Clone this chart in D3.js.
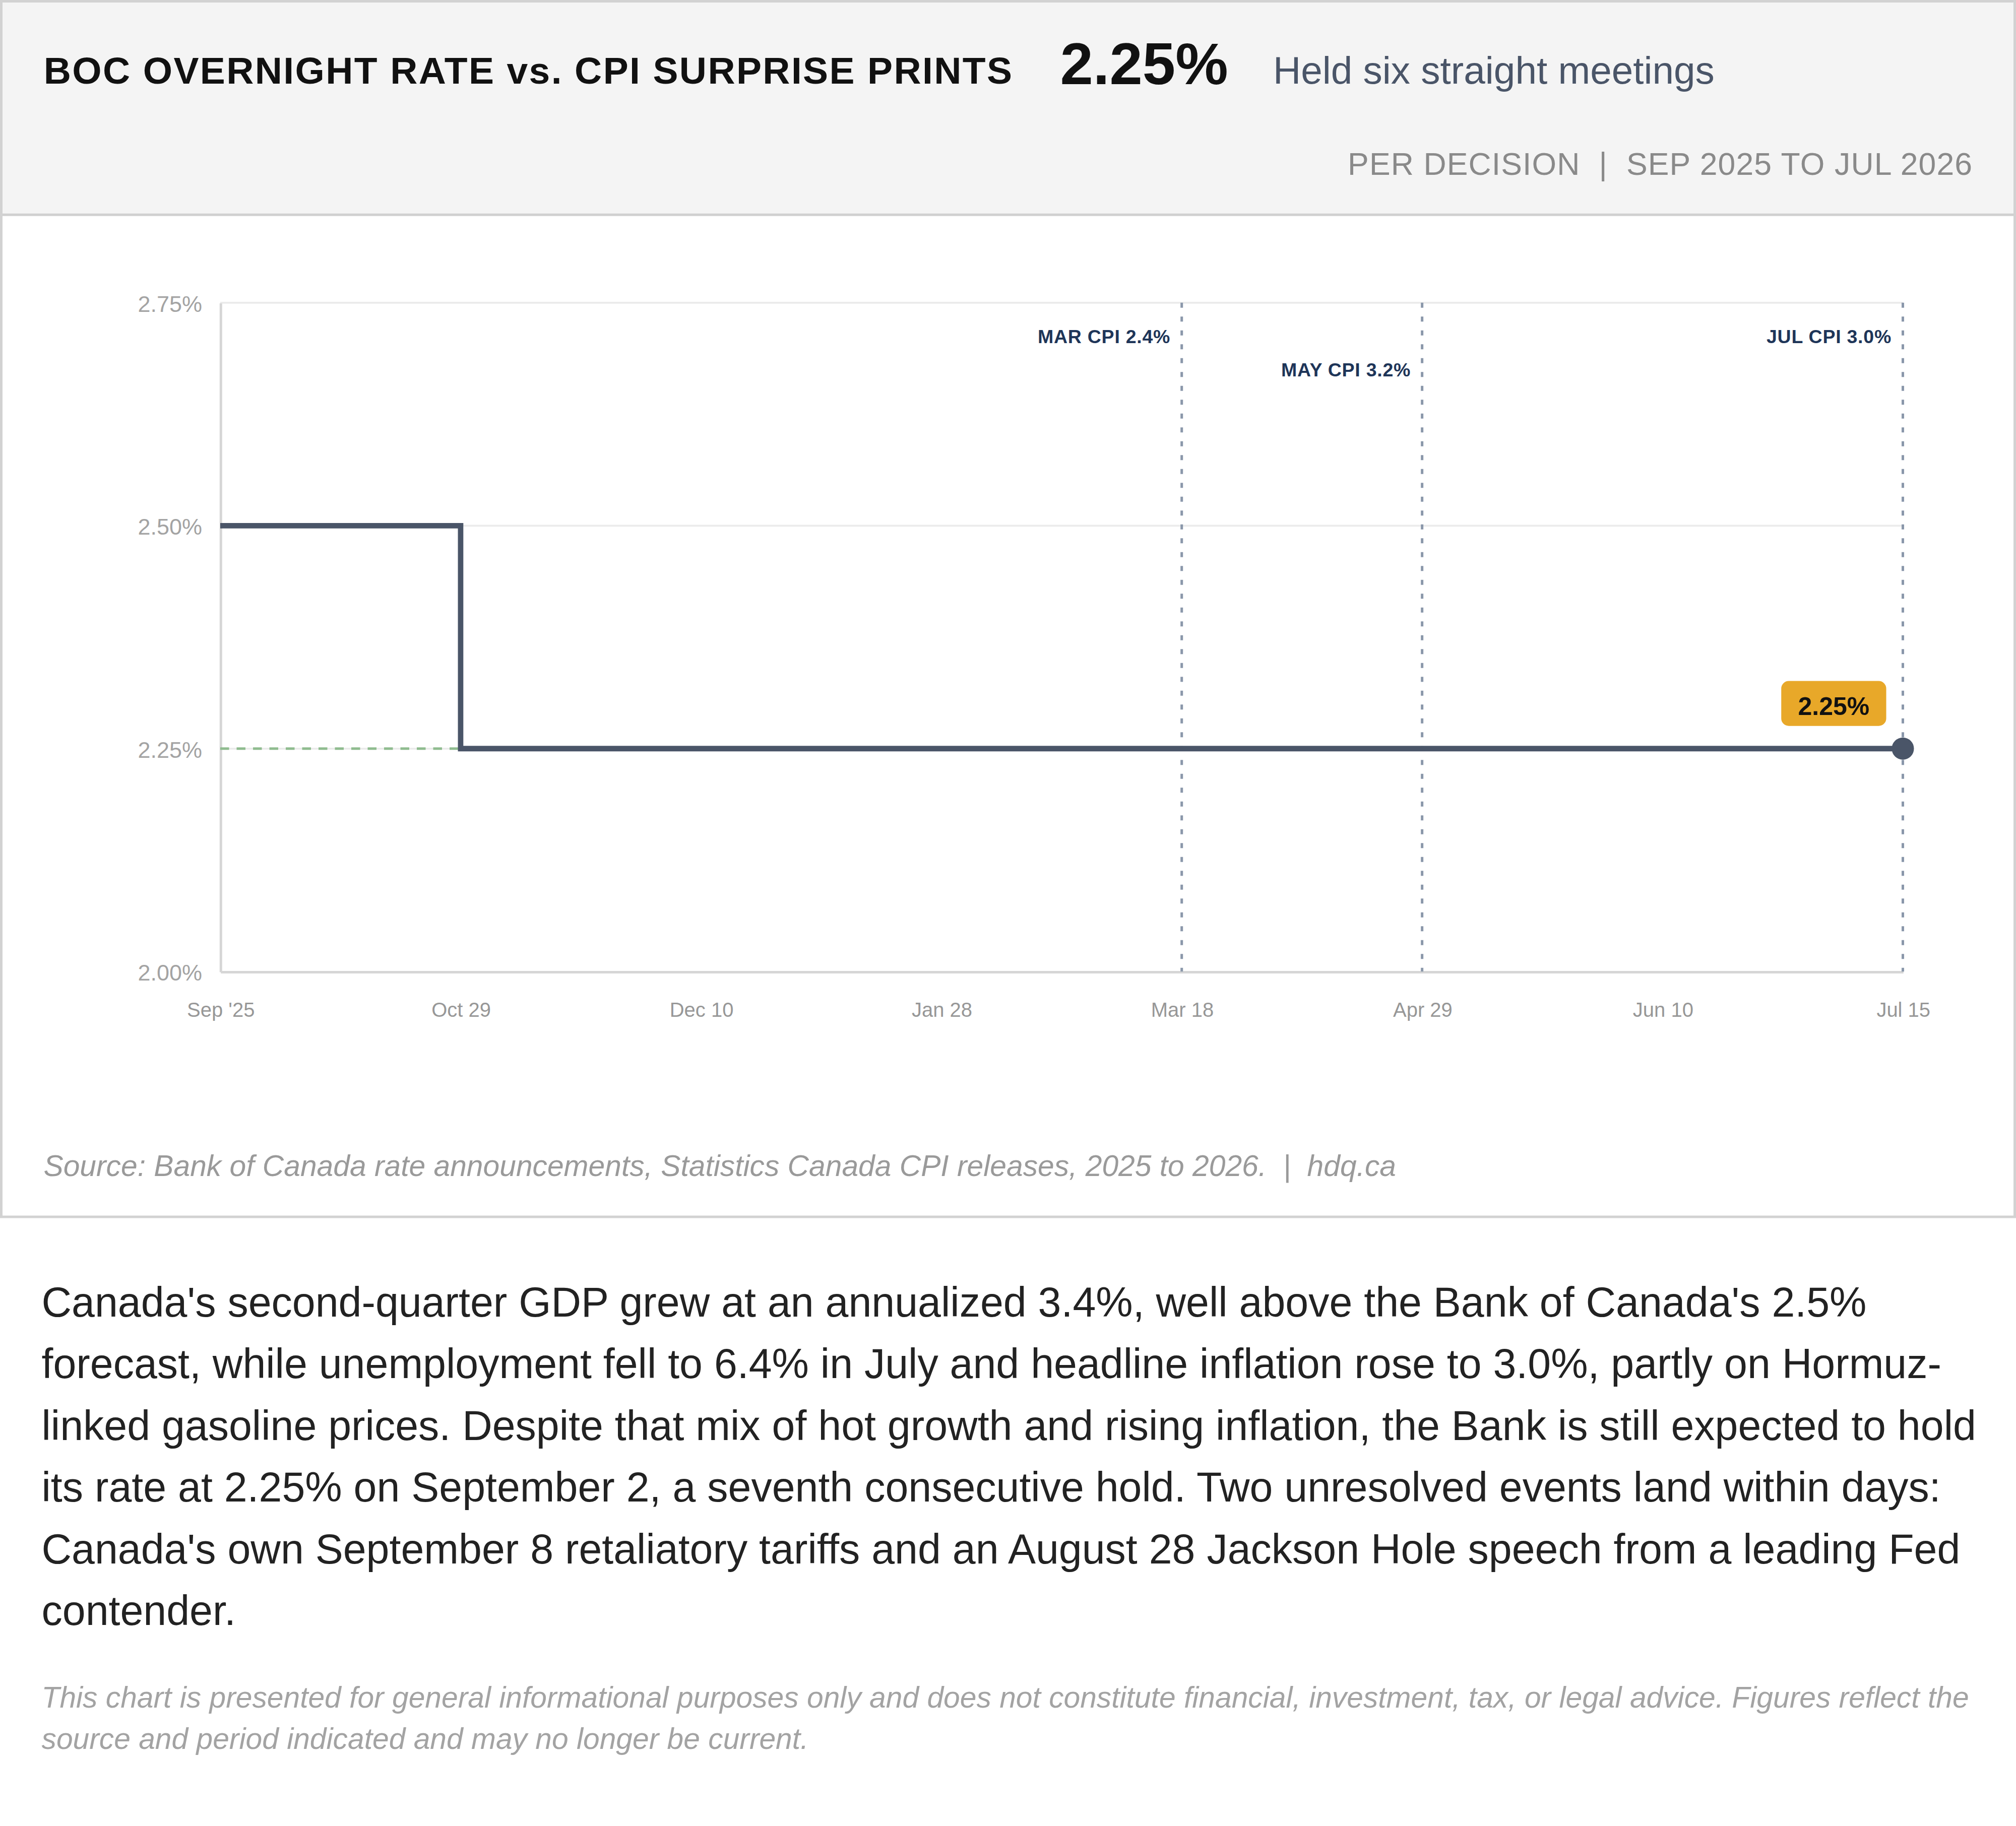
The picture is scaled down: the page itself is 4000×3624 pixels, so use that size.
<!DOCTYPE html>
<html>
<head>
<meta charset="utf-8">
<script src="https://cdn.jsdelivr.net/npm/d3@7"></script>
<style>
  body { margin: 0; background: #fff; }
  #page { zoom: 2.5; width: 1600px; font-family: "Liberation Sans", Arial, sans-serif; }
  #card { width: 1600px; height: 967px; }
  #card svg { display: block; }
  .blurb { margin: 42px 17px 0 33px; font-size: 33px; line-height: 49px; color: #222; }
  .disclaimer { margin: 28px 17px 0 33px; font-size: 23.5px; line-height: 33px; font-style: italic; color: #a3a3a3; }
</style>
</head>
<body>
<div id="page">
  <div id="card"></div>
  <div class="blurb">Canada's second-quarter GDP grew at an annualized 3.4%, well above the Bank of Canada's 2.5% forecast, while unemployment fell to 6.4% in July and headline inflation rose to 3.0%, partly on Hormuz-linked gasoline prices. Despite that mix of hot growth and rising inflation, the Bank is still expected to hold its rate at 2.25% on September 2, a seventh consecutive hold. Two unresolved events land within days: Canada's own September 8 retaliatory tariffs and an August 28 Jackson Hole speech from a leading Fed contender.</div>
  <div class="disclaimer">This chart is presented for general informational purposes only and does not constitute financial, investment, tax, or legal advice. Figures reflect the source and period indicated and may no longer be current.</div>
</div>
<script>
// rate decisions
var decisions = ["Sep '25", "Oct 29", "Dec 10", "Jan 28", "Mar 18", "Apr 29", "Jun 10", "Jul 15"];
var rates = [2.50, 2.25, 2.25, 2.25, 2.25, 2.25, 2.25, 2.25];
var yTicks = [2.00, 2.25, 2.50, 2.75];

// CPI surprise prints
var cpiDates = ["Mar 18", "Apr 29", "Jul 15"];
var cpiMonths = ["MAR", "MAY", "JUL"];
var cpiPrints = [2.4, 3.2, 3.0];

var W = 1600, H = 967;
var plotLeft = 174.8, plotRight = 1510.2, plotTop = 240.3, plotBottom = 771.3;
var font = "'Liberation Sans', Arial, sans-serif";

var svg = d3.select("#card")
    .append("svg")
    .attr("width", W)
    .attr("height", H)
    .style("font-family", font);

// header band
svg.append("rect")
    .attr("x", 0).attr("y", 0)
    .attr("width", W).attr("height", 170.5)
    .style("fill", "#f4f4f4");
svg.append("line")
    .attr("x1", 0).attr("x2", W)
    .attr("y1", 170.5).attr("y2", 170.5)
    .style("stroke", "#d0d0d0")
    .style("stroke-width", 2);
svg.append("rect")
    .attr("x", 1).attr("y", 1)
    .attr("width", W - 2).attr("height", H - 2)
    .style("fill", "none")
    .style("stroke", "#d2d2d2")
    .style("stroke-width", 2);

svg.append("text")
    .attr("x", 34.7).attr("y", 66.4)
    .style("font-size", "30px")
    .style("font-weight", "bold")
    .style("letter-spacing", "0.95px")
    .style("fill", "#111")
    .text("BOC OVERNIGHT RATE vs. CPI SURPRISE PRINTS");

svg.append("text")
    .attr("x", 841.4).attr("y", 66.8)
    .style("font-size", "47px")
    .style("font-weight", "bold")
    .style("fill", "#111")
    .text(d3.format(".2f")(rates[rates.length - 1]) + "%");

svg.append("text")
    .attr("x", 1010.4).attr("y", 66.4)
    .style("font-size", "30.6px")
    .style("fill", "#4a5568")
    .text("Held six straight meetings");

svg.append("text")
    .attr("x", 1565.7).attr("y", 138.7)
    .attr("text-anchor", "end")
    .style("font-size", "25px")
    .style("letter-spacing", "0.45px")
    .style("fill", "#8a8a8a")
    .style("white-space", "pre")
    .text("PER DECISION  |  SEP 2025 TO JUL 2026");

// scales
var x = d3.scalePoint()
    .domain(decisions)
    .range([plotLeft, plotRight]);

var y = d3.scaleLinear()
    .domain([yTicks[0], yTicks[yTicks.length - 1]])
    .range([plotBottom, plotTop]);

// grid
svg.append("g")
    .selectAll("line")
    .data(yTicks.slice(1))
    .enter()
    .append("line")
    .attr("x1", plotLeft).attr("x2", plotRight)
    .attr("y1", function(d){ return y(d); })
    .attr("y2", function(d){ return y(d); })
    .style("stroke", "#ebebeb")
    .style("stroke-width", 1.5);

// axes
var yAxis = svg.append("g")
    .attr("transform", "translate(" + plotLeft + ",0)")
    .call(d3.axisLeft(y).tickValues(yTicks).tickSize(0).tickPadding(14.4)
        .tickFormat(function(d){ return d3.format(".2f")(d) + "%"; }));
yAxis.select(".domain").style("stroke", "#d6d6d6").style("stroke-width", 2);
yAxis.selectAll("text")
    .attr("dy", "0.37em")
    .style("font-family", font)
    .style("font-size", "18px")
    .style("fill", "#a3a3a3");

var xAxis = svg.append("g")
    .attr("transform", "translate(0," + plotBottom + ")")
    .call(d3.axisBottom(x).tickSize(0).tickPadding(24.6));
xAxis.select(".domain").style("stroke", "#d6d6d6").style("stroke-width", 2);
xAxis.selectAll("text")
    .style("font-family", font)
    .style("font-size", "16px")
    .style("fill", "#979797");

// dashed level from the axis to where the current rate began
var current = rates[rates.length - 1];
var firstHold = rates.indexOf(current);
svg.append("line")
    .attr("x1", x(decisions[0]))
    .attr("x2", x(decisions[firstHold]))
    .attr("y1", y(current))
    .attr("y2", y(current))
    .style("stroke", "#8fbc8f")
    .style("stroke-width", 2)
    .style("stroke-dasharray", "7 6");

// CPI print markers
var cpi = svg.append("g")
    .selectAll("g")
    .data(cpiDates)
    .enter()
    .append("g");

cpi.append("line")
    .attr("x1", function(d){ return x(d); })
    .attr("x2", function(d){ return x(d); })
    .attr("y1", plotTop)
    .attr("y2", plotBottom)
    .style("stroke", "#8a97aa")
    .style("stroke-width", 2)
    .style("stroke-dasharray", "4 7");

cpi.append("text")
    .attr("x", function(d){ return x(d) - 9; })
    .attr("y", function(d, i){ return i % 2 === 0 ? plotTop + 32 : plotTop + 58.6; })
    .attr("text-anchor", "end")
    .style("font-size", "15px")
    .style("font-weight", "bold")
    .style("letter-spacing", "0.3px")
    .style("fill", "#1e3558")
    .text(function(d, i){ return cpiMonths[i] + " CPI " + d3.format(".1f")(cpiPrints[i]) + "%"; });

// rate step line
var line = d3.line()
    .x(function(d, i){ return x(decisions[i]); })
    .y(function(d){ return y(d); })
    .curve(d3.curveStepAfter);

svg.append("path")
    .datum(rates)
    .attr("d", line)
    .style("fill", "none")
    .style("stroke", "#4a5568")
    .style("stroke-width", 4.3);

var lastX = x(decisions[decisions.length - 1]);
var lastY = y(current);

svg.append("circle")
    .attr("cx", lastX)
    .attr("cy", lastY)
    .attr("r", 8.8)
    .style("fill", "#4a5568");

// current value tag
var tag = svg.append("g");
var tagRect = tag.append("rect")
    .attr("rx", 6)
    .style("fill", "#e8a829");
var tagText = tag.append("text")
    .attr("text-anchor", "middle")
    .style("font-size", "20px")
    .style("font-weight", "bold")
    .style("fill", "#111")
    .text(d3.format(".2f")(current) + "%");
var tw = tagText.node().getComputedTextLength();
var boxW = tw + 26.6, boxH = 35.7;
var boxRight = lastX - 13.2, boxBottom = lastY - 18;
tagRect
    .attr("x", boxRight - boxW)
    .attr("y", boxBottom - boxH)
    .attr("width", boxW)
    .attr("height", boxH);
tagText
    .attr("x", boxRight - boxW / 2)
    .attr("y", boxBottom - 8.8);

// source
svg.append("text")
    .attr("x", 34.6).attr("y", 933.7)
    .style("font-size", "23.5px")
    .style("font-style", "italic")
    .style("fill", "#9a9a9a")
    .style("white-space", "pre")
    .text("Source: Bank of Canada rate announcements, Statistics Canada CPI releases, 2025 to 2026.  |  hdq.ca");
</script>
</body>
</html>
